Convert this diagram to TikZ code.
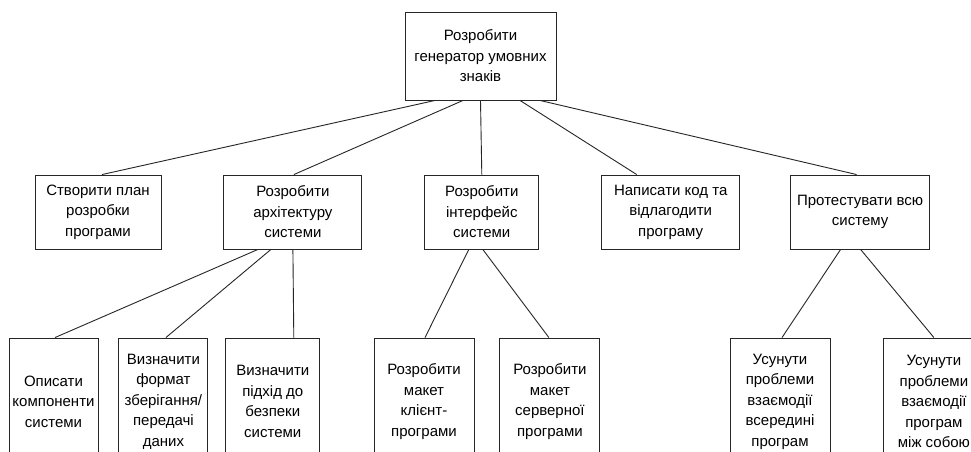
\documentclass[tikz,border=0pt]{standalone}
\usepackage{fontspec}
\setmainfont{Liberation Sans}
\usepackage{tikz}
\usetikzlibrary{positioning}

\begin{document}
\begin{tikzpicture}[x=1pt,y=-1pt,font=\fontsize{15}{20.5}\selectfont,
      task style/.style={rectangle,draw=black!85,line width=0.9pt,align=center,inner sep=0pt},
      top style/.style={task style,minimum height=74pt},
      leaf style/.style={task style,minimum height=127pt},
      link style/.style={draw=black!85,line width=0.9pt}
      ]
      \fill[white] (0,0) rectangle (971,452);
      \useasboundingbox (0,0) rectangle (971,452);
      \clip (0,0) rectangle (971,452);
      \node[task style,minimum width=151pt,minimum height=88pt] (goal) at (480.5,56) {Розробити\\генератор умовних\\знаків};
      \node[top style,minimum width=126pt] (plan) at (98,212) {Створити план\\розробки\\програми};
      \node[top style,minimum width=138pt,right=62pt of plan] (arch) {Розробити\\архітектуру\\системи};
      \node[top style,minimum width=114pt,right=62pt of arch] (iface) {Розробити\\інтерфейс\\системи};
      \node[top style,minimum width=138pt,right=62pt of iface] (code) {Написати код та\\відлагодити\\програму};
      \node[top style,minimum width=139pt,right=50pt of code] (test) {Протестувати всю\\систему};
      \node[leaf style,minimum width=89pt] (descr) at (53.5,401.5) {Описати\\компоненти\\системи};
      \node[leaf style,minimum width=89pt,right=20pt of descr] (format) {Визначити\\формат\\зберігання/\\передачі\\даних};
      \node[leaf style,minimum width=94pt,right=17pt of format] (secur) {Визначити\\підхід до\\безпеки\\системи};
      \node[leaf style,minimum width=100pt] (client) at (424,401.5) {Розробити\\макет\\клієнт-\\програми};
      \node[leaf style,minimum width=100pt,right=25pt of client] (server) {Розробити\\макет\\серверної\\програми};
      \node[leaf style,minimum width=100pt] (inside) at (780,401.5) {Усунути\\проблеми\\взаємодії\\всередині\\програм};
      \node[leaf style,minimum width=100pt,right=53pt of inside] (mutual) {Усунути\\проблеми\\взаємодії\\програм\\між собою};
      \draw[link style] ([xshift=-45.5pt]goal.south) -- ([xshift=4pt]plan.north);
      \draw[link style] ([xshift=-17.5pt]goal.south) -- ([xshift=1pt]arch.north);
      \draw[link style] (goal.south) -- (iface.north);
      \draw[link style] ([xshift=39.5pt]goal.south) -- ([xshift=-34pt]code.north);
      \draw[link style] ([xshift=59.5pt]goal.south) -- ([xshift=-3.5pt]test.north);
      \draw[link style] ([xshift=-35pt]arch.south) -- ([xshift=1.5pt]descr.north);
      \draw[link style] ([xshift=-22pt]arch.south) -- ([xshift=2.5pt]format.north);
      \draw[link style] (arch.south) -- ([xshift=21pt]secur.north);
      \draw[link style] ([xshift=-13pt]iface.south) -- ([xshift=1pt]client.north);
      \draw[link style] ([xshift=1pt]iface.south) -- ([xshift=-1pt]server.north);
      \draw[link style] ([xshift=-19.5pt]test.south) -- ([xshift=2pt]inside.north);
      \draw[link style] ([xshift=0.5pt]test.south) -- (mutual.north);
\end{tikzpicture}
\end{document}
